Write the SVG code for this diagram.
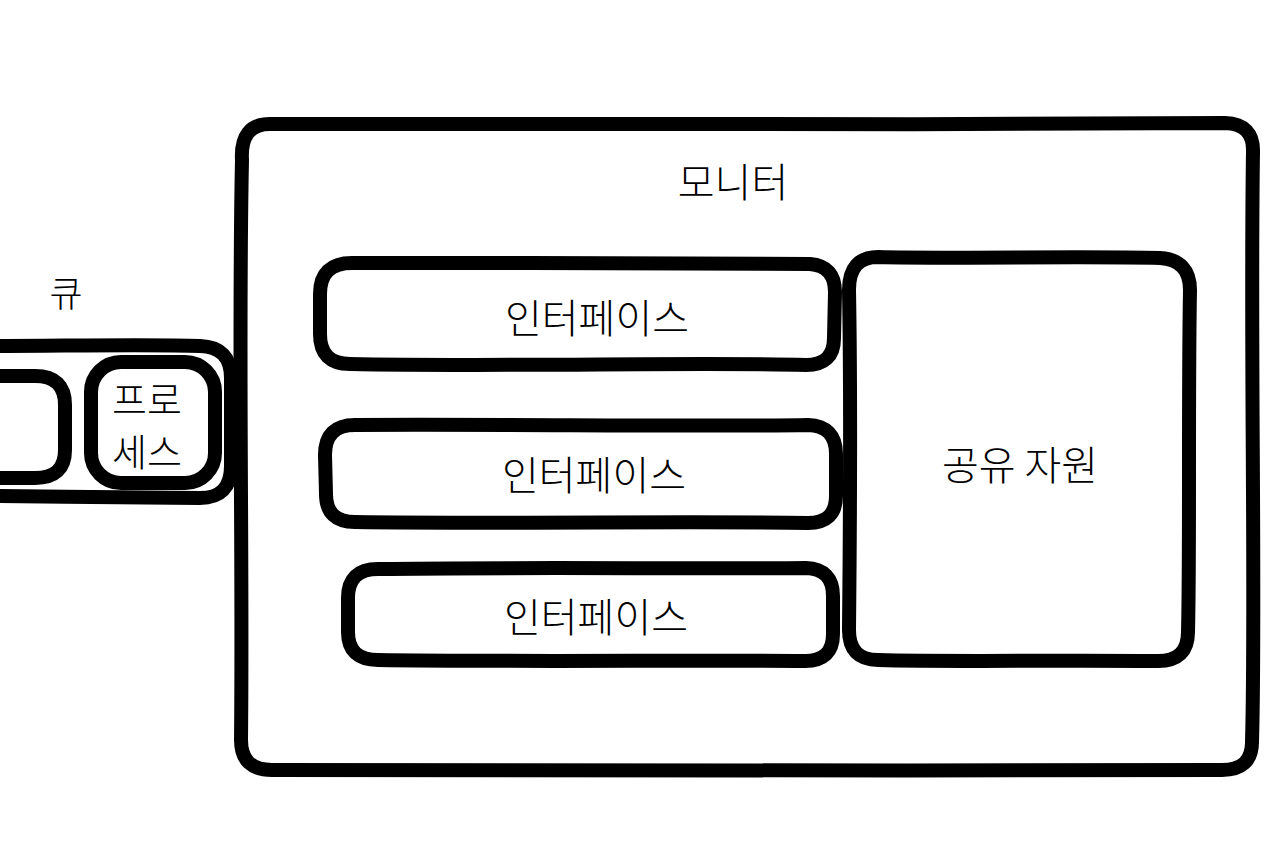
<svg xmlns="http://www.w3.org/2000/svg" width="1280" height="856" viewBox="0 0 1280 856">
<style>
.box{fill:none;stroke:#000;stroke-width:14;stroke-linejoin:round;stroke-linecap:round}
.t{font-family:"Noto Sans CJK KR","Noto Sans",sans-serif;font-weight:300;fill:#000;text-anchor:middle}
</style>
<rect width="1280" height="856" fill="#fff"/>
<g id="monitor">
<path class="box" d="M270,124 C500,122 900,126 1225,123 Q1254,124 1253,152 C1250,350 1256,600 1252,742 Q1252,770 1222,770 C900,772 500,768 272,770 Q241,770 241,740 C243,550 238,350 242,160 Q240,124 270,124 Z"/>
<text class="t" x="733" y="197" font-size="40">모니터</text>
</g>
<g id="queue">
<path class="box" d="M-10,346 C60,346 150,344 200,346 Q231,347 231,378 L231,466 Q231,498 200,498 C150,497 60,497 -10,496"/>
<text class="t" x="66" y="307" font-size="36">큐</text>
</g>
<g id="process-prev">
<path class="box" d="M-10,376 L35,376 Q65,376 65,405 L65,450 Q65,478 35,478 L-10,478"/>
</g>
<g id="process">
<rect class="box" x="91" y="362" width="124" height="121" rx="30"/>
<text class="t" x="147" y="414" font-size="38">프로</text>
<text class="t" x="147" y="466" font-size="38">세스</text>
</g>
<g id="interface1">
<path class="box" d="M352,263 C500,262 700,265 810,264 Q835,266 835,292 L834,338 Q834,365 806,365 C700,362 500,367 350,364 Q320,364 320,334 L320,294 Q320,263 352,263 Z"/>
<text class="t" x="597" y="333" font-size="40">인터페이스</text>
</g>
<g id="interface2">
<path class="box" d="M355,425 C500,424 700,427 808,425 Q836,426 836,454 L836,496 Q836,523 808,523 C700,521 500,524 355,522 Q326,522 326,494 L325,455 Q325,425 355,425 Z"/>
<text class="t" x="594" y="490" font-size="40">인터페이스</text>
</g>
<g id="interface3">
<path class="box" d="M378,569 C500,567 700,569 806,568 Q833,569 833,596 L833,634 Q833,661 805,661 C700,660 500,662 378,660 Q348,660 348,632 L348,598 Q348,569 378,569 Z"/>
<text class="t" x="596" y="632" font-size="40">인터페이스</text>
</g>
<g id="shared-resource">
<path class="box" d="M878,257 C950,259 1080,256 1160,258 Q1190,260 1190,290 C1188,400 1190,550 1188,632 Q1188,661 1158,661 C1050,660 950,662 878,660 Q849,660 849,630 C850,530 851,400 849,290 Q849,257 878,257 Z"/>
<text class="t" x="1020" y="480" font-size="40">공유 자원</text>
</g>
<g id="connectors"></g>
</svg>
